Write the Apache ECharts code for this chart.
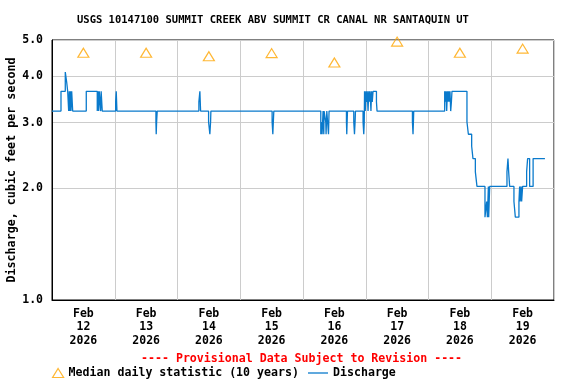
<!DOCTYPE html>
<html>
<head>
<meta charset="utf-8">
<script src="https://cdn.jsdelivr.net/npm/echarts@6/dist/echarts.min.js"></script>
<style>
html,body{margin:0;padding:0;background:#fff;}
#chart{width:576px;height:384px;}
</style>
</head>
<body>
<div id="chart"></div>
<script>
const chartTitle = 'USGS 10147100 SUMMIT CREEK ABV SUMMIT CR CANAL NR SANTAQUIN UT';
const provisionalText = '---- Provisional Data Subject to Revision ----';
const yAxisName = 'Discharge, cubic feet per second';
const yTickValues = [1, 2, 3, 4, 5];
const dayMonth = 'Feb';
const dayNumbers = [12, 13, 14, 15, 16, 17, 18, 19];
const dayYear = 2026;

// hours since Feb 12 2026 00:00, discharge (cfs) held from that time
const flowHours = [0, 3.44, 5.08, 5.62, 6.0, 6.38, 6.61, 6.88, 7.07, 7.26, 7.53, 7.91,
  13.11, 17.31, 17.58, 17.85, 18.08, 18.61, 18.80, 19.22,
  24.34, 24.57, 24.84,
  39.75, 39.86, 40.01, 40.24,
  56.18, 56.56, 56.83,
  59.89, 60.38, 60.65, 60.77,
  84.19, 84.46, 84.65, 84.84,
  102.80, 103.07, 103.30, 103.68, 103.95, 104.06, 104.71, 104.83, 105.10, 105.75, 105.97,
  112.62, 112.74, 113.01,
  115.42, 115.69, 115.92, 116.07,
  118.97, 119.24, 119.43, 119.54, 119.81, 120.08, 120.38, 120.57, 120.88, 121.15, 121.41, 121.64, 121.99, 122.22, 122.49, 122.79,
  124.09, 124.32,
  137.85, 138.08, 138.23, 138.35,
  150.19, 150.46, 150.69, 150.96, 151.23, 151.46, 151.72, 151.99, 152.22, 152.49, 152.76, 152.98,
  158.71, 159.25, 160.51, 161.01, 161.92, 162.54,
  165.60, 166.25, 166.52, 166.90, 167.02, 167.40,
  174.01, 174.39, 174.66, 175.04,
  176.68, 177.21, 178.59, 178.86, 179.05, 179.43, 179.62, 180.00,
  181.53, 181.91, 182.68, 184.01, 188.53];
const flowCfs = [3.22, 3.64, 4.10, 3.85, 3.64, 3.22, 3.64, 3.22, 3.64, 3.22, 3.64, 3.22,
  3.64, 3.22, 3.64, 3.22, 3.64, 3.22, 3.64, 3.22,
  3.41, 3.64, 3.22,
  3.01, 2.79, 3.01, 3.22,
  3.41, 3.64, 3.22,
  3.01, 2.79, 3.01, 3.22,
  3.01, 2.79, 3.01, 3.22,
  2.79, 3.01, 2.79, 3.22, 2.79, 3.22, 3.01, 2.79, 3.22, 2.79, 3.22,
  3.01, 2.79, 3.22,
  3.01, 2.79, 3.01, 3.22,
  3.01, 2.79, 3.01, 3.64, 3.22, 3.64, 3.41, 3.64, 3.22, 3.64, 3.41, 3.64, 3.22, 3.64, 3.41, 3.64,
  3.41, 3.22,
  3.01, 2.79, 3.01, 3.22,
  3.64, 3.41, 3.64, 3.22, 3.64, 3.41, 3.64, 3.41, 3.64, 3.22, 3.41, 3.64,
  3.01, 2.79, 2.59, 2.40, 2.21, 2.02,
  1.67, 1.84, 1.67, 2.02, 1.67, 2.02,
  2.21, 2.40, 2.21, 2.02,
  1.84, 1.67, 1.84, 2.02, 1.84, 2.02, 1.84, 2.02,
  2.21, 2.40, 2.02, 2.40, 2.40];

// median daily statistic (10 years), one per day, plotted at noon
const medianCfs = [4.62, 4.62, 4.52, 4.61, 4.35, 4.95, 4.62, 4.74];

const HOUR = 3600000;
const DAY = 24 * HOUR;
const t0 = Date.UTC(2026, 1, 12);
const tEnd = t0 + dayNumbers.length * DAY;

const flowData = flowHours.map((h, i) => [t0 + h * HOUR, flowCfs[i]]);
const medianData = medianCfs.map((v, i) => [t0 + i * DAY + 12 * HOUR, v]);
const labelValues = dayNumbers.map((d, i) => t0 + i * DAY + 12 * HOUR);

const FONT = '"DejaVu Sans Mono", "Liberation Mono", monospace';
const BLUE = '#0a7acc';
const ORANGE = '#ffa500';
const chart = echarts.init(document.getElementById('chart'), null, {renderer: 'canvas'});
chart.setOption({
  animation: false,
  backgroundColor: '#ffffff',
  title: [{
    text: chartTitle,
    left: 77, top: 15, padding: 0,
    textStyle: {fontFamily: FONT, fontSize: 10.5, fontWeight: 'bold', color: '#000'}
  }, {
    text: provisionalText,
    left: 141, top: 353, padding: 0,
    textStyle: {fontFamily: FONT, fontSize: 11.6, fontWeight: 'bold', color: '#ff0000'}
  }],
  legend: [{
    data: [{name: 'Median daily statistic (10 years)', icon: 'triangle',
      itemStyle: {color: 'rgba(0,0,0,0)', borderColor: ORANGE, borderWidth: 1.2}}],
    left: 52, top: 367, padding: 0,
    itemWidth: 11, itemHeight: 9,
    textStyle: {fontFamily: FONT, fontSize: 11.6, fontWeight: 'bold', color: '#000'}
  }, {
    data: [{name: 'Discharge', icon: 'rect', itemStyle: {color: BLUE, borderWidth: 0}}],
    left: 308, top: 367, padding: 0,
    itemWidth: 20, itemHeight: 1.3,
    textStyle: {fontFamily: FONT, fontSize: 11.6, fontWeight: 'bold', color: '#000'}
  }],
  grid: {left: 52, top: 40, width: 502, height: 260, containLabel: false, outerBoundsMode: 'none',
    show: true, borderColor: '#000', borderWidth: 1, backgroundColor: 'transparent'},
  xAxis: {
    type: 'value',
    min: t0, max: tEnd, interval: DAY,
    axisLine: {show: true, lineStyle: {color: '#000'}},
    axisTick: {show: false},
    splitLine: {show: true, lineStyle: {color: '#cccccc', width: 1}},
    axisLabel: {
      customValues: labelValues,
      margin: 7,
      fontFamily: FONT, fontSize: 11.5, fontWeight: 'bold', color: '#000',
      lineHeight: 13.5,
      formatter: function (v) {
        const d = new Date(v);
        return dayMonth + '\n' + d.getUTCDate() + '\n' + dayYear;
      }
    }
  },
  yAxis: {
    type: 'log', logBase: 10, min: 1, max: 5,
    name: yAxisName, nameLocation: 'middle', nameGap: 34, nameMoveOverlap: false,
    nameTextStyle: {fontFamily: FONT, fontSize: 11.7, fontWeight: 'bold', color: '#000'},
    axisLine: {show: true, lineStyle: {color: '#000'}},
    axisTick: {show: false, customValues: yTickValues},
    splitLine: {show: true, lineStyle: {color: '#cccccc', width: 1}},
    axisLabel: {
      customValues: yTickValues,
      margin: 9,
      fontFamily: FONT, fontSize: 11.5, fontWeight: 'bold', color: '#000',
      formatter: function (v) { return Number(v).toFixed(1); }
    }
  },
  series: [{
    name: 'Discharge',
    type: 'line',
    step: 'end',
    data: flowData,
    showSymbol: false, symbol: 'none',
    lineStyle: {color: BLUE, width: 1.3},
    itemStyle: {color: BLUE},
    z: 3
  }, {
    name: 'Median daily statistic (10 years)',
    type: 'scatter',
    data: medianData,
    symbol: 'triangle',
    symbolSize: [11, 9],
    clip: false,
    itemStyle: {color: 'rgba(0,0,0,0)', borderColor: ORANGE, borderWidth: 1.2},
    z: 4
  }]
});
</script>
</body>
</html>
